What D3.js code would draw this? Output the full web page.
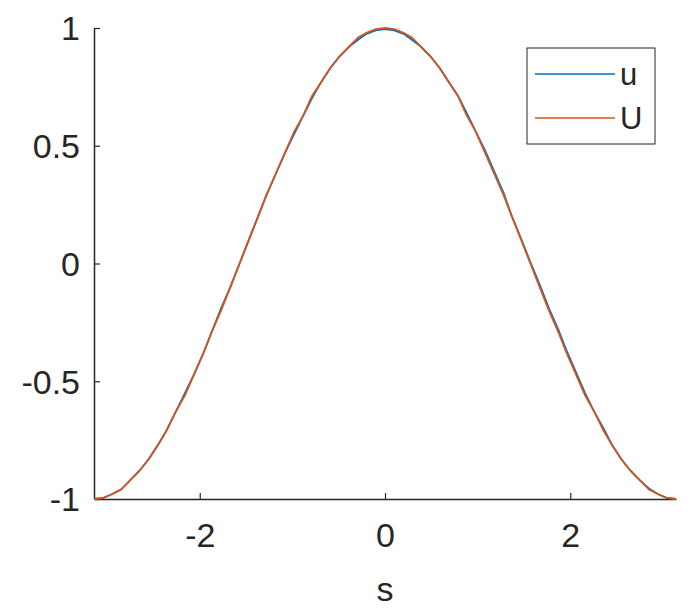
<!DOCTYPE html>
<html>
<head>
<meta charset="utf-8">
<script src="https://cdn.jsdelivr.net/npm/d3@7"></script>
<style>
  body { margin: 0; background: #fff; }
  svg { display: block; }
  .axis path, .axis line { stroke: #262626; }
  .axis text { fill: #262626; font-family: "Liberation Sans", Arial, sans-serif; font-size: 34px; }
</style>
</head>
<body>
<script>
//values
var sValues = [-3.14, -3.04, -2.95, -2.85, -2.75, -2.65, -2.55, -2.45, -2.36, -2.26, -2.16,
               -2.06, -1.96, -1.87, -1.77, -1.67, -1.57, -1.47, -1.37, -1.28, -1.18, -1.08,
               -0.98, -0.88, -0.79, -0.69, -0.59, -0.49, -0.39, -0.29, -0.20, -0.10, 0,
               0.10, 0.20, 0.29, 0.39, 0.49, 0.59, 0.69, 0.79, 0.88, 0.98, 1.08,
               1.18, 1.28, 1.37, 1.47, 1.57, 1.67, 1.77, 1.87, 1.96, 2.06, 2.16,
               2.26, 2.36, 2.45, 2.55, 2.65, 2.75, 2.85, 2.95, 3.04, 3.14];
var uValues = [-1, -0.995, -0.98, -0.96, -0.92, -0.88, -0.83, -0.77, -0.71, -0.63, -0.55,
               -0.47, -0.38, -0.29, -0.19, -0.10, 0, 0.10, 0.20, 0.29, 0.38, 0.47,
               0.55, 0.63, 0.70, 0.77, 0.83, 0.88, 0.92, 0.95, 0.975, 0.99, 0.995,
               0.99, 0.975, 0.95, 0.92, 0.88, 0.83, 0.77, 0.71, 0.64, 0.56, 0.48,
               0.39, 0.30, 0.20, 0.105, 0.005, -0.09, -0.19, -0.28, -0.37, -0.46, -0.55,
               -0.63, -0.70, -0.77, -0.83, -0.88, -0.92, -0.955, -0.98, -0.995, -1];
var UValues = [-1, -0.995, -0.98, -0.96, -0.92, -0.88, -0.83, -0.77, -0.71, -0.63, -0.56,
               -0.47, -0.38, -0.29, -0.20, -0.10, 0, 0.10, 0.20, 0.29, 0.38, 0.47,
               0.56, 0.63, 0.71, 0.77, 0.83, 0.88, 0.92, 0.96, 0.98, 0.995, 1,
               0.995, 0.98, 0.96, 0.92, 0.88, 0.83, 0.77, 0.71, 0.63, 0.56, 0.47,
               0.38, 0.29, 0.20, 0.10, 0, -0.10, -0.20, -0.29, -0.38, -0.47, -0.56,
               -0.63, -0.71, -0.77, -0.83, -0.88, -0.92, -0.96, -0.98, -0.995, -1];
var xTicks = [-2, 0, 2];
var yTicks = [-1, -0.5, 0, 0.5, 1];
var seriesNames = ["u", "U"];
var seriesColors = ["#0072BD", "#D95319"];

var width = 698, height = 616;
var margin = {left: 94, right: 22, top: 28, bottom: 117};

var svg = d3.select("body").append("svg")
    .attr("width", width)
    .attr("height", height);

var x = d3.scaleLinear()
    .domain([-Math.PI, Math.PI])
    .range([margin.left, width - margin.right]);

var y = d3.scaleLinear()
    .domain([-1, 1])
    .range([height - margin.bottom, margin.top]);

//plain hyphen for negatives, like the original
var fmt = function(d){ return String(d); };

//axes, ticks point inward
var xAxis = svg.append("g")
    .attr("class", "axis")
    .attr("transform", "translate(0," + y(-1) + ")")
    .call(d3.axisBottom(x).tickValues(xTicks).tickSizeInner(-6).tickSizeOuter(0).tickPadding(24).tickFormat(fmt));

var yAxis = svg.append("g")
    .attr("class", "axis")
    .attr("transform", "translate(" + x(-Math.PI) + ",0)")
    .call(d3.axisLeft(y).tickValues(yTicks).tickSizeInner(-6).tickSizeOuter(0).tickPadding(14).tickFormat(fmt));

svg.selectAll(".axis path").attr("stroke-width", 1.5);
svg.selectAll(".axis line").attr("stroke-width", 1.2);
xAxis.selectAll("text").attr("dy", "0.71em");
yAxis.selectAll("text").attr("dy", "0.35em");

//axis label
svg.append("text")
    .attr("x", x(0))
    .attr("y", 601)
    .attr("text-anchor", "middle")
    .attr("fill", "#262626")
    .style("font-family", "Liberation Sans, Arial, sans-serif")
    .style("font-size", "34px")
    .text("s");

//lines
var line = d3.line()
    .x(function(d){ return x(d[0]); })
    .y(function(d){ return y(d[1]); });

[uValues, UValues].forEach(function(vals, i){
    svg.append("path")
        .datum(sValues.map(function(s, j){ return [s, vals[j]]; }))
        .attr("fill", "none")
        .attr("stroke", seriesColors[i])
        .attr("stroke-width", 1.8)
        .attr("d", line);
});

//legend
var legend = svg.append("g").attr("transform", "translate(527,48)");
legend.append("rect")
    .attr("width", 128)
    .attr("height", 96)
    .attr("fill", "#fff")
    .attr("stroke", "#262626")
    .attr("stroke-width", 1);

seriesNames.forEach(function(name, i){
    var ly = 26 + i * 44;
    legend.append("line")
        .attr("x1", 8).attr("x2", 88)
        .attr("y1", ly).attr("y2", ly)
        .attr("stroke", seriesColors[i])
        .attr("stroke-width", 1.6);
    legend.append("text")
        .attr("x", 93)
        .attr("y", ly)
        .attr("dy", "0.35em")
        .attr("fill", "#262626")
        .style("font-family", "Liberation Sans, Arial, sans-serif")
        .style("font-size", "31px")
        .text(name);
});
</script>
</body>
</html>
